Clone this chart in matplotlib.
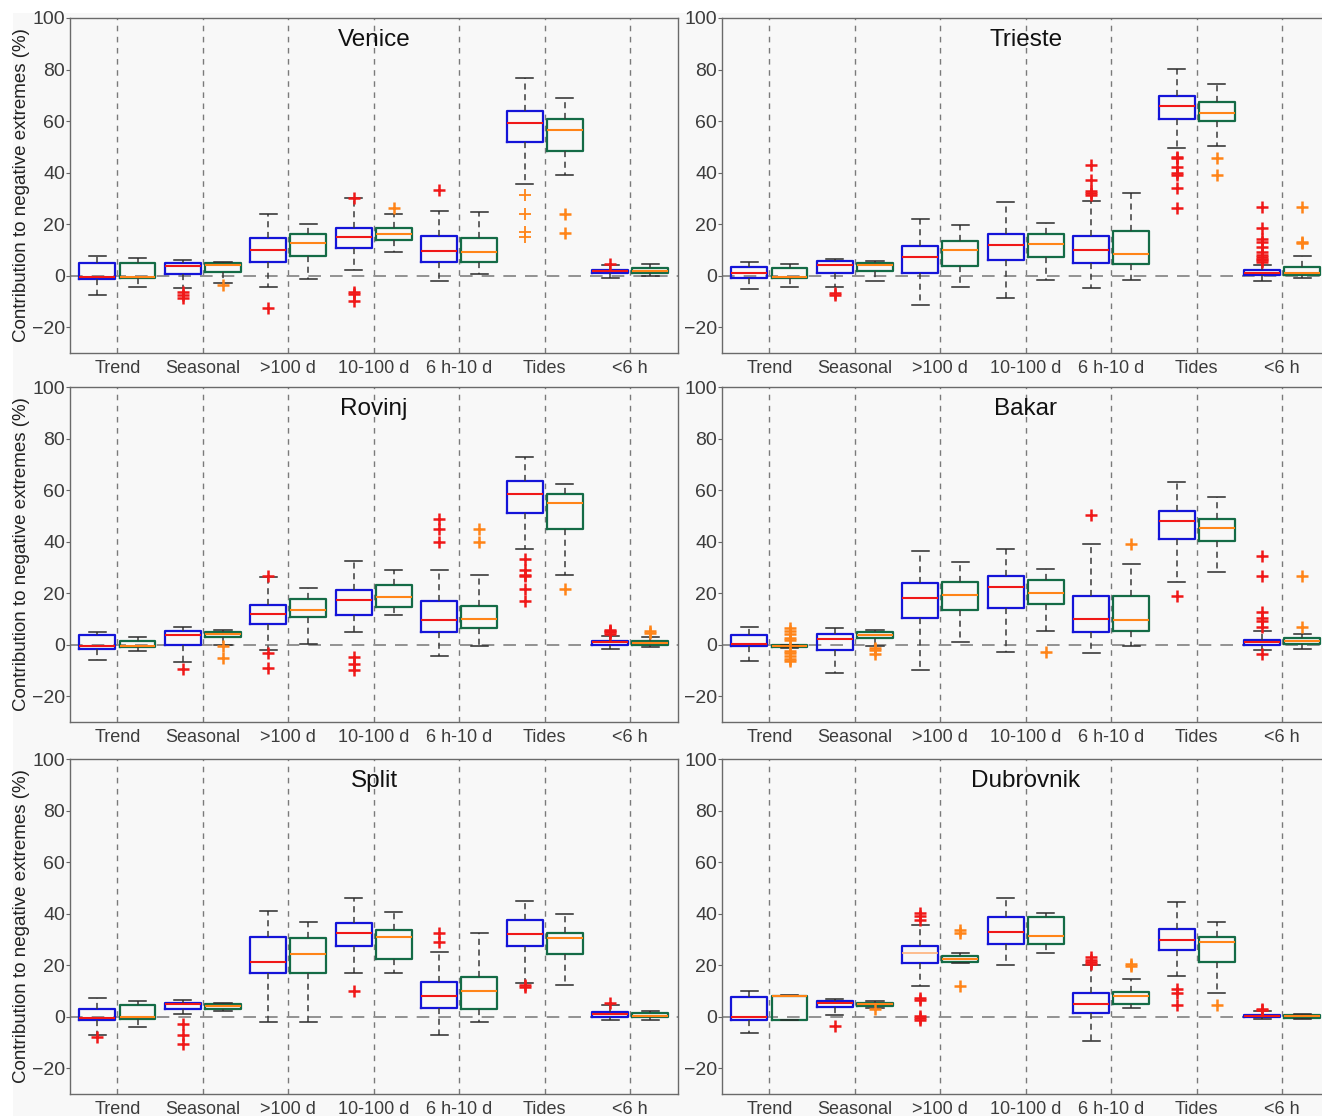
import matplotlib
matplotlib.use("Agg")
import matplotlib.pyplot as plt
from matplotlib.patches import Rectangle

plt.rcParams['font.family'] = ['Liberation Sans', 'DejaVu Sans']

categories = ['Trend', 'Seasonal', '>100 d', '10-100 d', '6 h-10 d', 'Tides', '<6 h']
stations = ['Venice', 'Trieste', 'Rovinj', 'Bakar', 'Split', 'Dubrovnik']

# box stats per category: [whisker low, q1, median, q3, whisker high]
# series A (blue boxes, red medians) and series B (green boxes, orange medians)
venice_a = [[-7.6, -1.3, -0.4, 5.0, 7.8], [-4.9, 0.8, 3.7, 5.0, 6.0], [-4.4, 5.4, 10.0, 14.8, 24.0],
            [2.1, 10.7, 15.0, 18.5, 30.1], [-1.9, 5.4, 9.4, 15.4, 25.2], [35.5, 51.9, 59.1, 64.0, 76.7],
            [-0.9, 1.0, 1.8, 2.3, 4.0]]
venice_a_out = [[], [-6.4, -7.6, -8.5], [-12.5], [30.3, -6.3, -7.2, -9.8], [33.2],
                [31.5, 24.0, 16.8, 14.9], [4.6]]
venice_b = [[-4.4, -1.0, -0.5, 5.0, 6.7], [-3.0, 1.4, 4.1, 4.9, 5.5], [-1.2, 7.7, 12.5, 16.2, 20.0],
            [9.1, 13.9, 16.1, 18.6, 24.0], [0.6, 5.3, 9.1, 14.5, 24.8], [39.2, 48.3, 56.6, 60.7, 68.9],
            [-0.3, 1.2, 1.9, 3.1, 4.5]]
venice_b_out = [[], [-3.5], [], [26.3], [], [24.0, 16.7], []]

trieste_a = [[-5.1, -0.9, 1.0, 3.3, 5.3], [-4.4, 1.0, 4.1, 5.8, 6.3], [-11.3, 1.2, 7.1, 11.7, 22.1],
             [-8.7, 6.0, 11.8, 16.3, 28.5], [-4.6, 5.1, 9.9, 15.3, 28.8], [49.7, 60.8, 65.7, 69.8, 80.1],
             [-2.1, 0.3, 1.2, 2.2, 4.2]]
trieste_a_out = [[], [-6.6, -7.5], [], [], [42.8, 37.3, 33.0, 32.1, 31.2],
                 [46.0, 45.5, 42.2, 39.8, 39.1, 34.1, 26.1],
                 [26.5, 18.5, 14.3, 13.0, 11.1, 9.1, 8.2, 7.2, 6.6, 5.9, 5.4]]
trieste_b = [[-4.4, -0.9, -0.4, 3.1, 4.5], [-2.1, 1.8, 4.0, 5.0, 5.7], [-4.4, 3.9, 9.8, 13.4, 19.7],
             [-1.7, 7.1, 12.2, 16.2, 20.3], [-1.5, 4.6, 8.5, 17.2, 32.1], [50.3, 59.9, 63.2, 67.4, 74.4],
             [-1.0, 0.1, 1.0, 3.3, 7.7]]
trieste_b_out = [[], [], [], [], [], [45.5, 39.1], [26.5, 13.2, 12.6]]

rovinj_a = [[-5.9, -1.5, -0.6, 3.7, 4.9], [-6.8, 0.0, 3.6, 5.3, 7.0], [-2.1, 7.9, 11.9, 15.4, 26.2],
            [4.8, 11.7, 17.2, 21.2, 32.3], [-4.5, 4.9, 9.5, 16.8, 28.8], [37.0, 51.2, 58.5, 63.5, 73.0],
            [-1.7, -0.1, 0.9, 1.4, 3.4]]
rovinj_a_out = [[], [-9.3], [26.5, -3.4, -9.0], [-4.9, -7.4, -9.8], [48.9, 44.9, 40.0],
                [33.3, 28.9, 27.2, 26.6, 21.8, 16.9], [5.7, 5.2, 4.8, 4.3]]
rovinj_b = [[-2.6, -1.0, -0.5, 1.4, 3.0], [0.0, 2.8, 4.0, 4.8, 5.8], [0.1, 10.8, 13.3, 17.8, 22.1],
            [11.6, 14.5, 18.7, 23.1, 29.0], [-0.5, 6.6, 9.8, 15.1, 27.0], [27.0, 45.0, 55.0, 58.5, 62.5],
            [-1.0, -0.1, 0.6, 1.3, 3.0]]
rovinj_b_out = [[], [-0.6, -5.3], [], [], [44.9, 40.0], [21.8], [5.3, 4.5]]

bakar_a = [[-6.2, -0.6, 0.1, 3.6, 7.0], [-11.1, -2.1, 2.2, 4.0, 6.6], [-9.7, 10.5, 18.2, 23.9, 36.4],
           [-2.8, 14.1, 22.5, 26.6, 37.0], [-3.4, 4.9, 10.1, 18.8, 39.1], [24.4, 40.9, 47.9, 52.0, 63.2],
           [-2.1, 0.0, 1.0, 1.9, 5.2]]
bakar_a_out = [[], [], [], [], [50.5], [19.0], [34.3, 26.6, 12.6, 10.5, 9.2, 6.8, -3.6]]
bakar_b = [[-1.1, -0.9, -0.4, -0.2, -0.1], [-0.6, 2.5, 3.9, 4.8, 5.7], [1.0, 13.3, 19.2, 24.3, 32.1],
           [5.2, 15.6, 20.0, 25.2, 29.3], [-0.4, 5.5, 9.4, 18.8, 31.5], [28.4, 40.3, 45.3, 48.9, 57.3],
           [-1.7, 0.4, 1.4, 2.5, 4.3]]
bakar_b_out = [[6.3, 5.3, 4.3, 2.5, 1.8, -2.5, -3.4, -4.4, -5.4, -6.2], [-1.2, -2.1, -3.7], [],
               [-3.0], [39.1], [], [26.6, 6.8]]

split_a = [[-7.0, -1.3, -0.5, 3.1, 7.1], [1.0, 2.8, 4.8, 5.4, 6.3], [-2.2, 16.9, 21.4, 31.0, 40.9],
           [16.9, 27.6, 32.3, 36.3, 45.9], [-7.1, 3.2, 7.9, 13.4, 25.2], [12.9, 27.5, 32.0, 37.4, 45.0],
           [-1.3, -0.1, 0.9, 1.8, 4.5]]
split_a_out = [[-7.7], [-2.8, -7.0, -10.5], [], [9.9], [32.6, 29.0], [12.3, 11.6], [5.5]]
split_b = [[-4.1, -1.0, -0.3, 4.5, 6.1], [2.1, 3.0, 4.1, 5.0, 5.5], [-2.2, 16.9, 24.5, 30.6, 36.9],
           [16.8, 22.3, 31.0, 33.7, 40.6], [-1.9, 2.8, 10.1, 15.4, 32.4], [12.3, 24.5, 30.6, 32.6, 39.9],
           [-1.3, -0.1, 0.4, 1.5, 2.1]]
split_b_out = [[], [], [], [], [], [], []]

dubrovnik_a = [[-6.3, -1.3, -0.3, 7.6, 9.9], [0.6, 3.7, 5.3, 6.2, 7.0], [11.9, 21.0, 24.6, 27.5, 35.6],
               [20.0, 28.4, 32.9, 38.5, 46.2], [-9.3, 1.4, 4.8, 9.0, 20.0], [15.6, 25.7, 29.8, 34.2, 44.4],
               [-1.0, -0.3, 0.4, 0.8, 2.2]]
dubrovnik_a_out = [[], [-3.6], [40.1, 39.1, 37.5, 7.1, 6.6, 0.4, -0.5, -1.4], [],
                   [23.0, 22.1, 21.3, 20.5], [10.6, 9.3, 4.4], [3.1, 2.6]]
dubrovnik_b = [[-1.4, -1.2, 7.9, 8.2, 8.6], [3.4, 4.0, 4.8, 5.4, 5.9], [20.8, 21.2, 22.5, 23.7, 24.8],
               [24.8, 28.3, 31.5, 38.5, 40.4], [3.4, 4.9, 8.1, 9.7, 14.5], [9.3, 21.3, 28.9, 31.0, 36.8],
               [-1.0, -0.4, 0.1, 0.6, 0.9]]
dubrovnik_b_out = [[], [3.0], [33.5, 32.3, 12.0], [], [20.6, 19.6], [4.4], []]

series_a = [venice_a, trieste_a, rovinj_a, bakar_a, split_a, dubrovnik_a]
series_a_out = [venice_a_out, trieste_a_out, rovinj_a_out, bakar_a_out, split_a_out, dubrovnik_a_out]
series_b = [venice_b, trieste_b, rovinj_b, bakar_b, split_b, dubrovnik_b]
series_b_out = [venice_b_out, trieste_b_out, rovinj_b_out, bakar_b_out, split_b_out, dubrovnik_b_out]

BLUE, GREEN = '#1414d8', '#146b46'
RED, ORANGE = '#f01818', '#ff8418'
GRID = '#7a7a7a'
BG = '#f8f8f8'
OFFSET = 0.235


def make_stats(boxes, outs):
    stats = []
    for (lo, q1, med, q3, hi), fl in zip(boxes, outs):
        stats.append(dict(whislo=lo, q1=q1, med=med, q3=q3, whishi=hi, fliers=fl))
    return stats


def draw_series(ax, boxes, outs, offset, edge, med_color):
    pos = [i + 1 + offset for i in range(len(categories))]
    return ax.bxp(make_stats(boxes, outs), positions=pos, widths=0.42, capwidths=0.2,
                  manage_ticks=False,
                  boxprops=dict(color=edge, linewidth=1.6),
                  medianprops=dict(color=med_color, linewidth=1.5),
                  whiskerprops=dict(color='#3a3a3a', linewidth=1.1, linestyle=(0, (4, 3))),
                  capprops=dict(color='#2a2a2a', linewidth=1.1),
                  flierprops=dict(marker='+', markeredgecolor=med_color, markersize=8,
                                  markeredgewidth=1.8, linestyle='none'))


W, H = 1322, 1116
fig = plt.figure(figsize=(W / 100, H / 100), dpi=100, facecolor='white')
fig.patches.append(Rectangle((13 / W, 0), 1, 1 - 13 / H, transform=fig.transFigure,
                             facecolor=BG, edgecolor='none', zorder=-10))

col_left = [70, 722]
row_top = [18, 387, 759]
ax_w, ax_h = 608, 335

for k, name in enumerate(stations):
    r, c = divmod(k, 2)
    ax = fig.add_axes([col_left[c] / W, 1 - (row_top[r] + ax_h) / H, ax_w / W, ax_h / H])
    ax.set_facecolor(BG)
    ax.set_xlim(0.445, 7.56)
    ax.set_ylim(-30, 100)

    for x in range(1, len(categories) + 1):
        ax.axvline(x, color=GRID, linewidth=1.0, linestyle=(0, (4, 4)), zorder=1)
    ax.axhline(0, color='#8a8a8a', linewidth=1.3, linestyle=(0, (7, 5)), zorder=1)

    parts_a = draw_series(ax, series_a[k], series_a_out[k], -OFFSET, BLUE, RED)
    draw_series(ax, series_b[k], series_b_out[k], OFFSET, GREEN, ORANGE)

    # per-box colour exceptions
    if name == 'Venice':
        tide = parts_a['fliers'][categories.index('Tides')]
        tide.set_markeredgecolor(ORANGE)
        tide.set_markeredgewidth(1.3)
    if name == 'Dubrovnik':
        med = parts_a['medians'][categories.index('>100 d')]
        med.set_color('#ffb27a')
        med.set_linewidth(1.2)

    ax.set_xticks(range(1, len(categories) + 1))
    ax.set_xticklabels(categories)
    ax.set_yticks(range(-20, 101, 20))
    ax.tick_params(axis='x', length=0, pad=5, labelsize=13, labelcolor='#3c3c3c')
    ax.tick_params(axis='y', length=3, width=0.8, direction='out', pad=0.5,
                   labelsize=14, labelcolor='#3c3c3c', color='#666666')
    for sp in ax.spines.values():
        sp.set_color('#6a6a6a')
        sp.set_linewidth(1.0)

    ax.text(0.5, 1 - 22 / ax_h, name, transform=ax.transAxes, ha='center', va='center',
            fontsize=17.5, color='#111111')
    if c == 0:
        ax.set_ylabel('Contribution to negative extremes (%)', fontsize=13.5, color='#222222')
        ax.yaxis.set_label_coords(-40 / ax_w, 0.5)

fig.savefig('out.png', dpi=100, facecolor=fig.get_facecolor())
